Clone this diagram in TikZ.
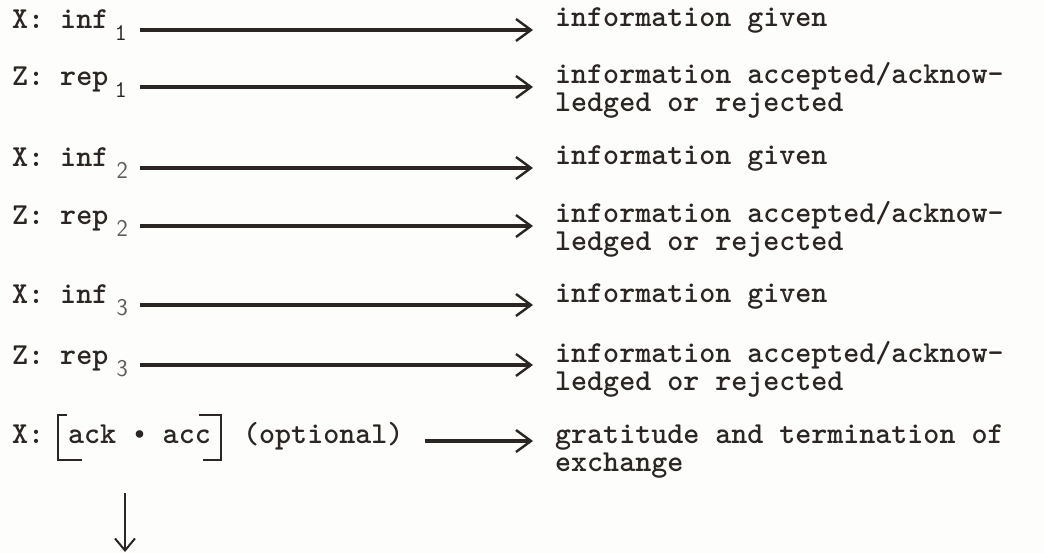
\documentclass[tikz,border=0pt]{standalone}
\usetikzlibrary{arrows.meta}
\definecolor{ink}{HTML}{2B2523}
\definecolor{paper}{HTML}{FDFDFC}
\tikzset{
  tw/.style={font=\fontsize{30.5}{28}\selectfont\ttfamily\bfseries, text=ink,
             inner sep=0pt, anchor=base west, align=left},
  subtw/.style={font=\fontsize{24}{24}\selectfont\ttfamily, text=ink,
             inner sep=0pt, anchor=base west},
  subhand/.style={font=\fontsize{24}{24}\selectfont\sffamily, text=ink!75,
             inner sep=0pt, anchor=base west},
  flow/.style={draw=ink, line width=3.2pt, shorten >=22pt,
             -{Straight Barb[length=15pt,width=22pt,line width=2.4pt]}},
  down/.style={draw=ink, line width=2pt,
             -{Straight Barb[length=12pt,width=20pt,line width=2pt]}},
  brk/.style={draw=ink, line width=2.4pt},
}
\begin{document}
\begin{tikzpicture}[x=1pt, y=-1pt]
  \fill[paper] (0,0) rectangle (1044,553);
  \useasboundingbox (0,0) rectangle (1044,553);

  % left column: speaker and move
  \node[tw] (m1) at (12,29)  {X: inf};
  \node[tw] (m2) at (12,86)  {Z: rep};
  \node[tw] (m3) at (12,167) {X: inf};
  \node[tw] (m4) at (12,225) {Z: rep};
  \node[tw] (m5) at (12,304) {X: inf};
  \node[tw] (m6) at (12,364) {Z: rep};
  \node[tw] (m7) at (12,443) {X:};
  \node[tw] (ackacc) at (68,443) {ack\hspace{-5pt} {\fontsize{34}{34}\selectfont\normalfont\textbullet} \hspace{-5pt}acc};
  \node[tw] (opt) at (243,443) {(optional)};

  % subscripts
  \node[subtw]   (s1) at ([xshift=6pt,yshift=-12pt]m1.base east) {1};
  \node[subtw]   (s2) at ([xshift=6pt,yshift=-12pt]m2.base east) {1};
  \node[subhand] (s3) at ([xshift=8pt,yshift=-12pt]m3.base east) {2};
  \node[subhand] (s4) at ([xshift=8pt,yshift=-12pt]m4.base east) {2};
  \node[subhand] (s5) at ([xshift=8pt,yshift=-12pt]m5.base east) {3};
  \node[subhand] (s6) at ([xshift=8pt,yshift=-12pt]m6.base east) {3};

  % right column: meaning of each move (base anchor sits on the last line)
  \node[tw] (d1) at (555,27)  {information given};
  \node[tw] (d2) at (555,112) {information accepted/acknow-\\ledged or rejected};
  \node[tw] (d3) at (555,165) {information given};
  \node[tw] (d4) at (555,251) {information accepted/acknow-\\ledged or rejected};
  \node[tw] (d5) at (555,302) {information given};
  \node[tw] (d6) at (555,390) {information accepted/acknow-\\ledged or rejected};
  \node[tw] (d7) at (555,471) {gratitude and termination of\\exchange};

  % start points of the arrows
  \coordinate (a1) at (140,30);
  \coordinate (a2) at (140,87);
  \coordinate (a3) at (140,168);
  \coordinate (a4) at (140,226);
  \coordinate (a5) at (140,305);
  \coordinate (a6) at (140,365);
  \coordinate (a7) at (425,441);
  \draw[flow] (a1) -- (d1.west |- a1);
  \draw[flow] (a2) -- (d2.west |- a2);
  \draw[flow] (a3) -- (d3.west |- a3);
  \draw[flow] (a4) -- (d4.west |- a4);
  \draw[flow] (a5) -- (d5.west |- a5);
  \draw[flow] (a6) -- (d6.west |- a6);
  \draw[flow] (a7) -- (d7.west |- a7);

  % optional bracket round ack . acc
  \draw[brk] ([xshift=-1pt,yshift=28pt]ackacc.base west) -- ++(-9,0) -- ++(0,45) -- ++(24,0);
  \draw[brk] ([xshift=-12pt,yshift=28pt]ackacc.base east) -- ++(22,0) -- ++(0,45) -- ++(-18,0);

  % continuation downwards
  \coordinate (dn) at (125,552);
  \draw[down] ([yshift=-50pt]ackacc.base west -| dn) -- (dn);
\end{tikzpicture}
\end{document}
